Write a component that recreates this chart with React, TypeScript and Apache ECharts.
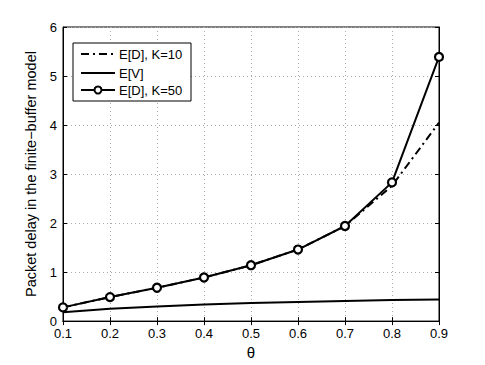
import React, { useEffect, useRef } from "react";
import * as echarts from "echarts";

const theta = [0.1, 0.2, 0.3, 0.4, 0.5, 0.6, 0.7, 0.8, 0.9];
const edK10 = [0.28, 0.49, 0.68, 0.89, 1.14, 1.46, 1.94, 2.76, 4.05];
const ev = [0.18, 0.25, 0.3, 0.34, 0.37, 0.39, 0.41, 0.43, 0.44];
const edK50 = [0.28, 0.49, 0.68, 0.89, 1.14, 1.46, 1.94, 2.83, 5.39];
const legendNames = ["E[D], K=10", "E[V]", "E[D], K=50"];

const FONT = "Liberation Sans, Arial, sans-serif";

export default function App() {
  const ref = useRef<HTMLDivElement>(null);
  useEffect(() => {
    if (!ref.current) return;
    const chart = echarts.init(ref.current, undefined, { renderer: "svg" });
    const pair = (ys: number[]) => theta.map((t, i) => [t, ys[i]]);
    const grid = { left: 63, right: 46, top: 27, bottom: 42 };
    const lx = 73, ly = 43, lw = 118, lh = 58;
    const rows = [54, 73, 90];
    chart.setOption({
      animation: false,
      backgroundColor: "#fff",
      grid: { ...grid, show: true, borderColor: "#000", borderWidth: 1, backgroundColor: "transparent" },
      xAxis: [
        {
          type: "value", min: 0.1, max: 0.9, interval: 0.1,
          name: "θ", nameLocation: "middle", nameGap: 20,
          nameTextStyle: { fontFamily: FONT, fontSize: 15, color: "#000" },
          axisLine: { show: true, lineStyle: { color: "#000" } },
          axisTick: { show: true, inside: true, length: 4, lineStyle: { color: "#000" } },
          axisLabel: { fontFamily: FONT, fontSize: 13, color: "#000", margin: 6, formatter: (v: number) => v.toFixed(1) },
          splitLine: { show: true, lineStyle: { color: "#aaa", type: [1, 3], width: 1 } },
        },
        {
          type: "value", min: 0.1, max: 0.9, interval: 0.1, position: "top",
          axisLine: { show: true, lineStyle: { color: "#000" } },
          axisTick: { show: true, inside: true, length: 4, lineStyle: { color: "#000" } },
          axisLabel: { show: false }, splitLine: { show: false },
        },
      ],
      yAxis: [
        {
          type: "value", min: 0, max: 6, interval: 1,
          name: "Packet delay in the finite−buffer model", nameLocation: "middle", nameGap: 17,
          nameTextStyle: { fontFamily: FONT, fontSize: 14.5, color: "#000" },
          axisLine: { show: true, lineStyle: { color: "#000" } },
          axisTick: { show: true, inside: true, length: 4, lineStyle: { color: "#000" } },
          axisLabel: { fontFamily: FONT, fontSize: 13, color: "#000", margin: 6 },
          splitLine: { show: true, lineStyle: { color: "#aaa", type: [1, 3], width: 1 } },
        },
        {
          type: "value", min: 0, max: 6, interval: 1, position: "right",
          axisLine: { show: true, lineStyle: { color: "#000" } },
          axisTick: { show: true, inside: true, length: 4, lineStyle: { color: "#000" } },
          axisLabel: { show: false }, splitLine: { show: false },
        },
      ],
      series: [
        {
          name: legendNames[1], type: "line", data: pair(ev), symbol: "none",
          lineStyle: { color: "#000", width: 2 },
        },
        {
          name: legendNames[0], type: "line", data: pair(edK10), symbol: "none",
          lineStyle: { color: "#000", width: 2, type: [8, 4, 2, 4] },
        },
        {
          name: legendNames[2], type: "line", data: pair(edK50), symbol: "circle", symbolSize: 8,
          itemStyle: { color: "#fff", borderColor: "#000", borderWidth: 2.2 },
          lineStyle: { color: "#000", width: 2 },
        },
      ],
      graphic: [
        { type: "rect", shape: { x: lx, y: ly, width: lw, height: lh }, style: { fill: "#fff", stroke: "#000", lineWidth: 1 }, z: 100 },
        { type: "line", shape: { x1: 81, y1: rows[0], x2: 115, y2: rows[0] }, style: { stroke: "#000", lineWidth: 2, lineDash: [8, 4, 2, 4] }, z: 101 },
        { type: "line", shape: { x1: 81, y1: rows[1], x2: 115, y2: rows[1] }, style: { stroke: "#000", lineWidth: 2 }, z: 101 },
        { type: "line", shape: { x1: 81, y1: rows[2], x2: 115, y2: rows[2] }, style: { stroke: "#000", lineWidth: 2 }, z: 101 },
        { type: "circle", shape: { cx: 98, cy: rows[2], r: 3.5 }, style: { fill: "#fff", stroke: "#000", lineWidth: 2 }, z: 102 },
        ...legendNames.map((n, i) => ({
          type: "text", x: 119, y: rows[i], z: 103,
          style: { text: n, fontFamily: FONT, fontSize: 13, fill: "#000", verticalAlign: "middle" },
        })),
      ],
    });
    return () => chart.dispose();
  }, []);
  return <div ref={ref} style={{ position: "fixed", left: 0, top: 0, width: 485, height: 365 }} />;
}
